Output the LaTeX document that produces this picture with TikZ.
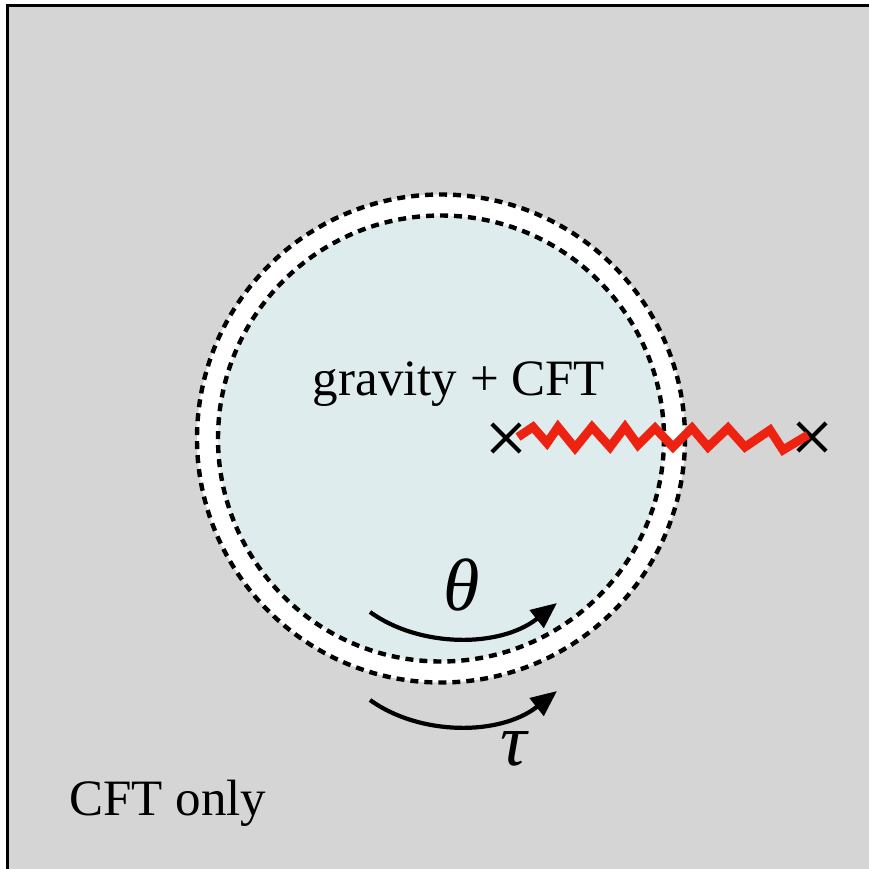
\documentclass[tikz,border=0pt]{standalone}
\usepackage{fontspec}
\setmainfont{Liberation Serif}
\usetikzlibrary{shapes.misc,arrows.meta}
\definecolor{bggray}{RGB}{213,213,213}
\definecolor{innerblue}{RGB}{223,236,237}
\definecolor{zigred}{RGB}{238,34,17}
\tikzset{
  ringline/.style={draw=black,line width=2.2pt,dash pattern=on 4pt off 3pt},
  xmark/.style={cross out,draw=black,line width=2.1pt,minimum size=12pt,inner sep=0pt},
  rotarrow/.style={draw=black,line width=2.1pt,-{Triangle[length=13pt,width=11pt]}},
  zigline/.style={draw=zigred,line width=4.4pt,line join=miter},
  lbl/.style={font=\fontsize{25.5}{30}\selectfont,inner sep=0pt,anchor=base},
  greek/.style={font=\fontsize{37}{40}\selectfont\itshape,inner sep=0pt,anchor=base},
}
\begin{document}
\begin{tikzpicture}[x=0.5pt,y=-0.5pt]
\useasboundingbox (0,0) rectangle (869,869);
\fill[white] (0,0) rectangle (869,869);
\draw[fill=bggray,line width=1.5pt] (7,5) rectangle (880,880);
\fill[white] (441,438.5) circle[radius=244];
\fill[innerblue] (441,438.5) circle[radius=223];
\draw[ringline] (441,438.5) circle[radius=244];
\draw[ringline] (441,438.5) circle[radius=223];
\node[lbl] (grav) at (459,395) {gravity + CFT};
\node[lbl] (only) at (168,815) {CFT only};
\node[xmark] (xl) at (506,438) {};
\node[xmark] (xr) at (812,437) {};
\coordinate (zs) at (518,437);
\coordinate (ze) at (808,435);
\draw[zigline] (zs) -- (533,427) -- (547,443) -- (558,427) -- (575,448) -- (592,427) -- (610,447) -- (625,427) -- (638,445) -- (655,428) -- (673,447) -- (692,428) -- (708,447) -- (728,428) -- (745,447) -- (770,430) -- (783,450) -- (ze);
\node[greek] (theta) at (462,610) {θ};
\node[greek] (tau) at (514,765) {τ};
\coordinate (a1s) at (370,612);
\coordinate (a1e) at (557,603);
\coordinate (a2s) at (370,700);
\coordinate (a2e) at (557,691);
\draw[rotarrow] (a1s) .. controls (420,648) and (500,648) .. (a1e);
\draw[rotarrow] (a2s) .. controls (420,736) and (500,736) .. (a2e);
\end{tikzpicture}
\end{document}
